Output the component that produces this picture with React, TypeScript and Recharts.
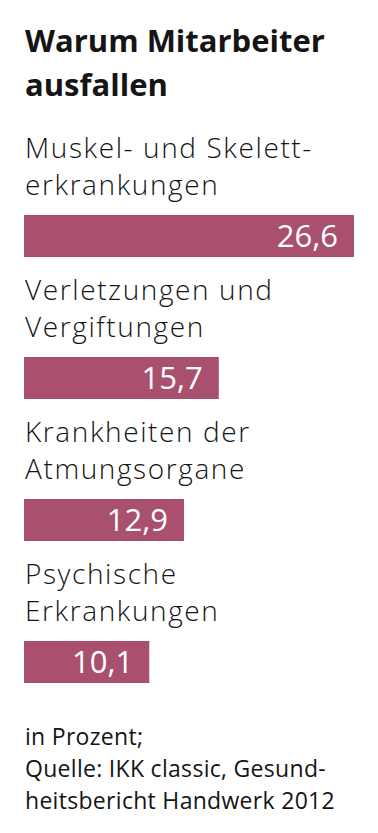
import { BarChart, Bar, XAxis, YAxis, LabelList } from 'recharts';

const categories = [
  ['Muskel- und Skelett-', 'erkrankungen'],
  ['Verletzungen und', 'Vergiftungen'],
  ['Krankheiten der', 'Atmungsorgane'],
  ['Psychische', 'Erkrankungen'],
];
const values = [26.6, 15.7, 12.9, 10.1];
const titleLines = ['Warum Mitarbeiter', 'ausfallen'];
const footerLines = ['in Prozent;', 'Quelle: IKK classic, Gesund-', 'heitsbericht Handwerk 2012'];

const data = categories.map((lines, i) => ({ name: lines.join(' '), lines, value: values[i] }));

const FONT = '"Open Sans", sans-serif';
const BAR_COLOR = '#a9506f';
const TEXT_COLOR = '#151515';

const fmt = (v: number) => v.toFixed(1).replace('.', ',');

function CategoryLabel(props: any) {
  const { x, y, index } = props;
  const lines = data[index].lines;
  return (
    <text x={x + 1} fontFamily={FONT} fontSize={28} fontWeight={350} letterSpacing={1.6} fill={TEXT_COLOR}>
      {lines.map((l: string, i: number) => (
        <tspan key={i} x={x + 1} y={y - 57 + i * 37}>{l}</tspan>
      ))}
    </text>
  );
}

function ValueLabel(props: any) {
  const { x, y, width, value } = props;
  return (
    <text x={x + width - 16} y={y + 32} textAnchor="end" fontFamily={FONT} fontSize={31} fontWeight={500} fill="#fff">
      {fmt(value)}
    </text>
  );
}

export default function App() {
  return (
    <div style={{ position: 'absolute', left: 0, top: 0, width: 378, height: 833, background: '#fff' }}>
      <BarChart
        width={378}
        height={833}
        data={data}
        layout="vertical"
        margin={{ top: 165, right: 24, bottom: 100, left: 24 }}
      >
        <XAxis type="number" domain={[0, 26.6]} hide />
        <YAxis type="category" dataKey="name" hide />
        <Bar dataKey="value" fill={BAR_COLOR} barSize={42} isAnimationActive={false}>
          <LabelList dataKey="value" content={<CategoryLabel />} />
          <LabelList dataKey="value" content={<ValueLabel />} />
        </Bar>
      </BarChart>
      <svg width={378} height={833} style={{ position: 'absolute', left: 0, top: 0, pointerEvents: 'none' }}>
        <text fontFamily={FONT} fontSize={31} fontWeight={700} fill={TEXT_COLOR}>
          {titleLines.map((l, i) => (
            <tspan key={i} x={25} y={52 + i * 44}>{l}</tspan>
          ))}
        </text>
        <text fontFamily={FONT} fontSize={23} letterSpacing={0.3} fill={TEXT_COLOR}>
          {footerLines.map((l, i) => (
            <tspan key={i} x={25} y={745 + i * 32}>{l}</tspan>
          ))}
        </text>
      </svg>
    </div>
  );
}
